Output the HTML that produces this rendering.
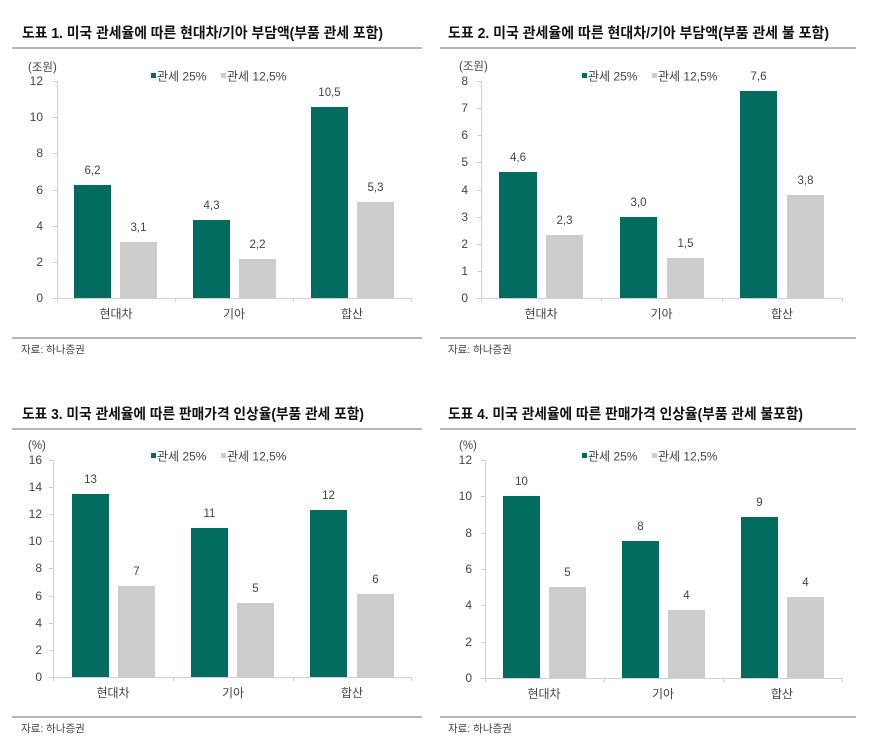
<!DOCTYPE html>
<html><head><meta charset="utf-8"><style>
html,body{margin:0;padding:0;background:#fff;}
svg{display:block;font-family:"Liberation Sans","Noto Sans CJK KR",sans-serif;}
.t{font-weight:bold;font-size:14.5px;fill:#111;}
.yl{font-size:12px;fill:#444;text-anchor:end;}
.xl{font-size:12px;fill:#444;text-anchor:middle;}
.v{font-size:11.5px;fill:#444;text-anchor:middle;}
.lg{font-size:12px;fill:#444;}
.u{font-size:11.5px;fill:#444;}
.s{font-size:10.5px;fill:#444;}
.g{fill:#006B5E;}
.h{fill:#CCCCCC;}
.ax{stroke:#D0D0D0;stroke-width:1;fill:none;}
.r{stroke:#8C8C8C;stroke-width:1.2;}
</style></head><body>
<svg width="870" height="737" viewBox="0 0 870 737" xmlns="http://www.w3.org/2000/svg">

<!-- ================= Chart 1 ================= -->
<text class="t" x="22" y="38" textLength="361" lengthAdjust="spacingAndGlyphs">도표 1. 미국 관세율에 따른 현대차/기아 부담액(부품 관세 포함)</text>
<line class="r" x1="12" y1="48" x2="422" y2="48"/>
<text class="u" x="28" y="71">(조원)</text>
<rect class="g" x="151" y="73" width="5" height="5"/><text class="lg" x="157" y="80.5">관세 25%</text>
<rect class="h" x="221" y="73" width="5" height="5"/><text class="lg" x="227" y="80.5">관세 12,5%</text>
<g>
<text class="yl" x="43" y="85">12</text>
<text class="yl" x="43" y="121">10</text>
<text class="yl" x="43" y="157">8</text>
<text class="yl" x="43" y="194">6</text>
<text class="yl" x="43" y="230">4</text>
<text class="yl" x="43" y="266">2</text>
<text class="yl" x="43" y="302">0</text>
<path class="ax" d="M57.5 81V298.5M53 81.5H57.5M53 117.5H57.5M53 153.5H57.5M53 190.5H57.5M53 226.5H57.5M53 262.5H57.5M53 298.5H411.5M57.5 298.5V302M175.5 298.5V302M293.5 298.5V302M411.5 298.5V302"/>
<rect class="g" x="74" y="185" width="37" height="113"/>
<rect class="h" x="120" y="242" width="37" height="56"/>
<rect class="g" x="193" y="220" width="37" height="78"/>
<rect class="h" x="239" y="259" width="37" height="39"/>
<rect class="g" x="311" y="107" width="37" height="191"/>
<rect class="h" x="357" y="202" width="37" height="96"/>
<text class="v" x="92.5" y="174">6,2</text>
<text class="v" x="138.5" y="231">3,1</text>
<text class="v" x="211.5" y="209">4,3</text>
<text class="v" x="257.5" y="248">2,2</text>
<text class="v" x="329.5" y="96">10,5</text>
<text class="v" x="375.5" y="191">5,3</text>
<text class="xl" x="116" y="318">현대차</text>
<text class="xl" x="234" y="318">기아</text>
<text class="xl" x="352" y="318">합산</text>
</g>
<line class="r" x1="12" y1="338" x2="422" y2="338"/>
<text class="s" x="21" y="353">자료: 하나증권</text>

<!-- ================= Chart 2 ================= -->
<text class="t" x="448" y="38" textLength="381" lengthAdjust="spacingAndGlyphs">도표 2. 미국 관세율에 따른 현대차/기아 부담액(부품 관세 불 포함)</text>
<line class="r" x1="440" y1="48" x2="856" y2="48"/>
<text class="u" x="459" y="70">(조원)</text>
<rect class="g" x="582" y="73" width="5" height="5"/><text class="lg" x="588" y="80.5">관세 25%</text>
<rect class="h" x="652" y="73" width="5" height="5"/><text class="lg" x="658" y="80.5">관세 12,5%</text>
<g>
<text class="yl" x="468" y="85">8</text>
<text class="yl" x="468" y="112">7</text>
<text class="yl" x="468" y="139">6</text>
<text class="yl" x="468" y="166">5</text>
<text class="yl" x="468" y="194">4</text>
<text class="yl" x="468" y="221">3</text>
<text class="yl" x="468" y="248">2</text>
<text class="yl" x="468" y="275">1</text>
<text class="yl" x="468" y="302">0</text>
<path class="ax" d="M481.5 81V298.5M477 81.5H481.5M477 108.5H481.5M477 135.5H481.5M477 162.5H481.5M477 190.5H481.5M477 217.5H481.5M477 244.5H481.5M477 271.5H481.5M477 298.5H842.5M481.5 298.5V302M601.5 298.5V302M722.5 298.5V302M842.5 298.5V302"/>
<rect class="g" x="499" y="172" width="38" height="126"/>
<rect class="h" x="546" y="235" width="37" height="63"/>
<rect class="g" x="620" y="217" width="37" height="81"/>
<rect class="h" x="667" y="258" width="37" height="40"/>
<rect class="g" x="740" y="91" width="37" height="207"/>
<rect class="h" x="787" y="195" width="37" height="103"/>
<text class="v" x="518" y="161">4,6</text>
<text class="v" x="564.5" y="224">2,3</text>
<text class="v" x="638.5" y="206">3,0</text>
<text class="v" x="685.5" y="247">1,5</text>
<text class="v" x="758.5" y="80">7,6</text>
<text class="v" x="805.5" y="184">3,8</text>
<text class="xl" x="541" y="318">현대차</text>
<text class="xl" x="661.5" y="318">기아</text>
<text class="xl" x="782" y="318">합산</text>
</g>
<line class="r" x1="440" y1="338" x2="856" y2="338"/>
<text class="s" x="448" y="353">자료: 하나증권</text>

<!-- ================= Chart 3 ================= -->
<text class="t" x="22" y="419" textLength="342" lengthAdjust="spacingAndGlyphs">도표 3. 미국 관세율에 따른 판매가격 인상율(부품 관세 포함)</text>
<line class="r" x1="12" y1="429" x2="422" y2="429"/>
<text class="u" x="28" y="449">(%)</text>
<rect class="g" x="151" y="453" width="5" height="5"/><text class="lg" x="157" y="460.5">관세 25%</text>
<rect class="h" x="221" y="453" width="5" height="5"/><text class="lg" x="227" y="460.5">관세 12,5%</text>
<g>
<text class="yl" x="42" y="464">16</text>
<text class="yl" x="42" y="491">14</text>
<text class="yl" x="42" y="518">12</text>
<text class="yl" x="42" y="545">10</text>
<text class="yl" x="42" y="572">8</text>
<text class="yl" x="42" y="600">6</text>
<text class="yl" x="42" y="627">4</text>
<text class="yl" x="42" y="654">2</text>
<text class="yl" x="42" y="681">0</text>
<path class="ax" d="M53.5 460V677.5M49 460.5H53.5M49 487.5H53.5M49 514.5H53.5M49 541.5H53.5M49 568.5H53.5M49 596.5H53.5M49 623.5H53.5M49 650.5H53.5M49 677.5H411.5M53.5 677.5V681M173.5 677.5V681M293.5 677.5V681M411.5 677.5V681"/>
<rect class="g" x="72" y="494" width="37" height="183"/>
<rect class="h" x="118" y="586" width="37" height="91"/>
<rect class="g" x="191" y="528" width="37" height="149"/>
<rect class="h" x="237" y="603" width="37" height="74"/>
<rect class="g" x="310" y="510" width="37" height="167"/>
<rect class="h" x="357" y="594" width="37" height="83"/>
<text class="v" x="90.5" y="483">13</text>
<text class="v" x="136.5" y="575">7</text>
<text class="v" x="209.5" y="517">11</text>
<text class="v" x="255.5" y="592">5</text>
<text class="v" x="328.5" y="499">12</text>
<text class="v" x="375.5" y="583">6</text>
<text class="xl" x="113" y="697">현대차</text>
<text class="xl" x="233" y="697">기아</text>
<text class="xl" x="352" y="697">합산</text>
</g>
<line class="r" x1="12" y1="717" x2="422" y2="717"/>
<text class="s" x="21" y="732">자료: 하나증권</text>

<!-- ================= Chart 4 ================= -->
<text class="t" x="448" y="419" textLength="355" lengthAdjust="spacingAndGlyphs">도표 4. 미국 관세율에 따른 판매가격 인상율(부품 관세 불포함)</text>
<line class="r" x1="440" y1="429" x2="856" y2="429"/>
<text class="u" x="459" y="449">(%)</text>
<rect class="g" x="582" y="453" width="5" height="5"/><text class="lg" x="588" y="460.5">관세 25%</text>
<rect class="h" x="652" y="453" width="5" height="5"/><text class="lg" x="658" y="460.5">관세 12,5%</text>
<g>
<text class="yl" x="472" y="464">12</text>
<text class="yl" x="472" y="500">10</text>
<text class="yl" x="472" y="537">8</text>
<text class="yl" x="472" y="573">6</text>
<text class="yl" x="472" y="609">4</text>
<text class="yl" x="472" y="646">2</text>
<text class="yl" x="472" y="682">0</text>
<path class="ax" d="M485.5 460V678.5M481 460.5H485.5M481 496.5H485.5M481 533.5H485.5M481 569.5H485.5M481 605.5H485.5M481 642.5H485.5M481 678.5H842.5M485.5 678.5V682M604.5 678.5V682M723.5 678.5V682M842.5 678.5V682"/>
<rect class="g" x="503" y="496" width="37" height="182"/>
<rect class="h" x="549" y="587" width="37" height="91"/>
<rect class="g" x="622" y="541" width="37" height="137"/>
<rect class="h" x="668" y="610" width="37" height="68"/>
<rect class="g" x="741" y="517" width="37" height="161"/>
<rect class="h" x="787" y="597" width="37" height="81"/>
<text class="v" x="521.5" y="485">10</text>
<text class="v" x="567.5" y="576">5</text>
<text class="v" x="640.5" y="530">8</text>
<text class="v" x="686.5" y="599">4</text>
<text class="v" x="759.5" y="506">9</text>
<text class="v" x="805.5" y="586">4</text>
<text class="xl" x="544" y="698">현대차</text>
<text class="xl" x="663" y="698">기아</text>
<text class="xl" x="782" y="698">합산</text>
</g>
<line class="r" x1="440" y1="717" x2="856" y2="717"/>
<text class="s" x="448" y="732">자료: 하나증권</text>

</svg>
</body></html>
